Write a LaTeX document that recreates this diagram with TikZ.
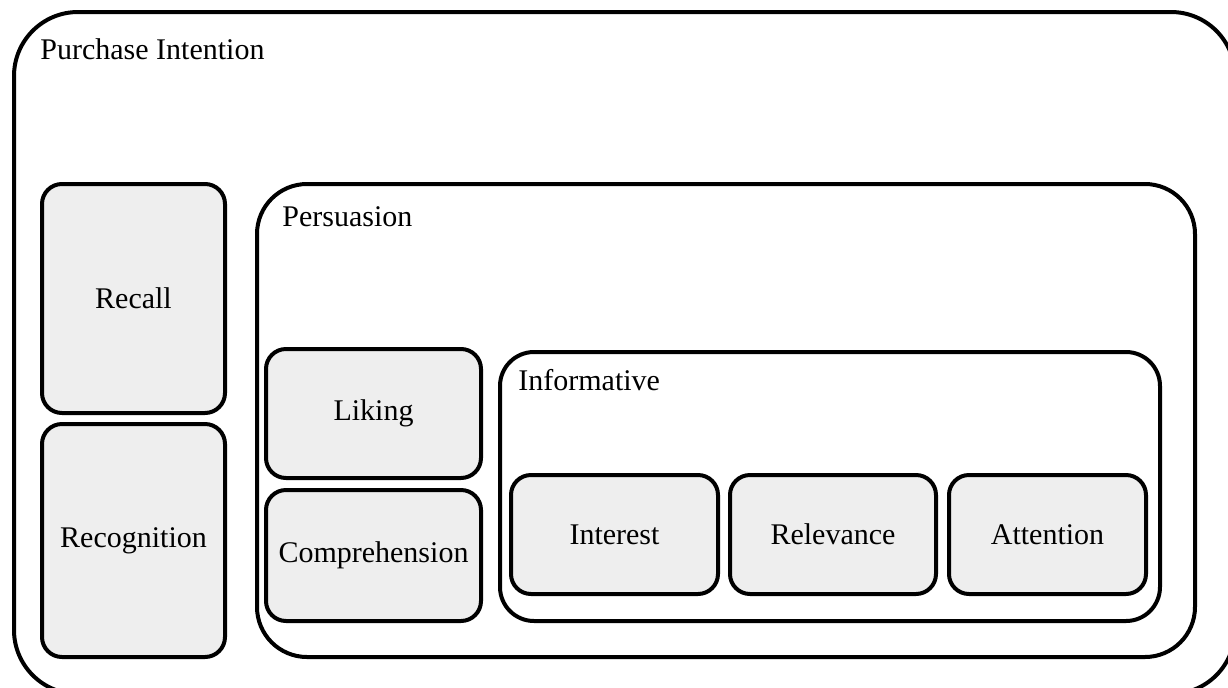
\documentclass[tikz,border=0pt]{standalone}
\usepackage{fontspec}
\setmainfont{Liberation Serif}
\definecolor{boxgray}{HTML}{EEEEEE}
\tikzset{
    layer/.style={draw, line width=2pt, inner sep=0pt},
    item/.style={draw, line width=2pt, fill=boxgray, rounded corners=10pt, inner sep=0pt, font=\fontsize{15}{18}\selectfont},
    title/.style={anchor=base west, inner sep=0pt, font=\fontsize{15}{18}\selectfont}
}
\begin{document}
\begin{tikzpicture}[x=0.5pt, y=-0.5pt]
            \useasboundingbox (0, 0) rectangle (1228, 687);

            % containers
            \node (purchase) at (624.5, 353)[layer, rounded corners=32pt, minimum width=610.5pt, minimum height=341pt]{};
            \node (persuasion) at (726, 420.5)[layer, rounded corners=25pt, minimum width=469pt, minimum height=236.5pt]{};
            \node (informative) at (830, 486.5)[layer, rounded corners=17pt, minimum width=330pt, minimum height=134.5pt]{};

            \node (purchasetitle) at (40, 59)[title]{Purchase Intention};
            \node (persuasiontitle) at (282, 226)[title]{Persuasion};
            \node (informativetitle) at (518, 390)[title]{Informative};

            % left column
            \node (recall) at (133.5, 298.5)[item, minimum width=91.5pt, minimum height=114.5pt]{Recall};
            \node (recognition) at (133.5, 540.5)[item, minimum width=91.5pt, minimum height=116.5pt]{Recognition};

            % persuasion column
            \node (liking) at (373.5, 413.5)[item, minimum width=107.5pt, minimum height=64.5pt]{Liking};
            \node (comprehension) at (373.5, 555.5)[item, minimum width=107.5pt, minimum height=65.5pt]{Comprehension};

            % informative row
            \foreach \name/\x/\w/\txt in {interest/614.5/103.5/Interest, relevance/833/103/Relevance, attention/1047.5/98.5/Attention}
                {
                    \node (\name) at (\x, 534.5)[item, minimum width=\w pt, minimum height=59.5pt]{\txt};
                }
        \end{tikzpicture}
\end{document}
